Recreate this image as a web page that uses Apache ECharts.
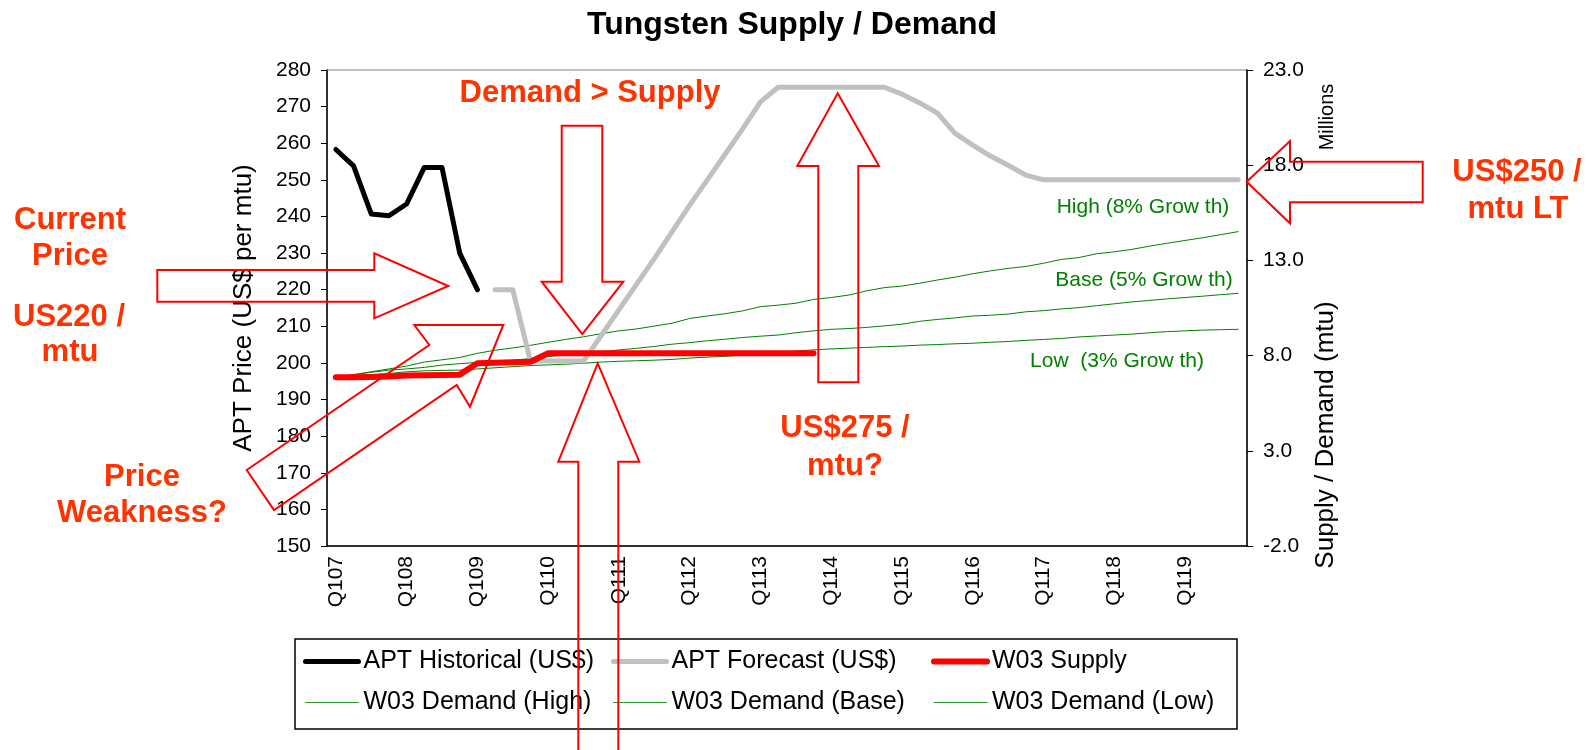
<!DOCTYPE html>
<html>
<head>
<meta charset="utf-8">
<script src="https://cdn.jsdelivr.net/npm/echarts@6/dist/echarts.min.js"></script>
<style>
  html, body { margin: 0; padding: 0; background: #fff; }
  #chart { width: 1596px; height: 750px; }
</style>
</head>
<body>
<div id="chart"></div>
<script>
// quarters Q107 .. Q419
const quarters = [
  "Q107","Q207","Q307","Q407","Q108","Q208","Q308","Q408",
  "Q109","Q209","Q309","Q409","Q110","Q210","Q310","Q410",
  "Q111","Q211","Q311","Q411","Q112","Q212","Q312","Q412",
  "Q113","Q213","Q313","Q413","Q114","Q214","Q314","Q414",
  "Q115","Q215","Q315","Q415","Q116","Q216","Q316","Q416",
  "Q117","Q217","Q317","Q417","Q118","Q218","Q318","Q418",
  "Q119","Q219","Q319","Q419"
];

// APT price, US$ per mtu (left axis)
const aptHistorical = [258.3, 253.8, 240.7, 240.2, 243.4, 253.4, 253.4, 230, 220];
const aptForecast = [
  null, null, null, null, null, null, null, null, null,
  220, 220, 200.5, 200.5, 200.5, 200.5, 207.5, 214.5, 221.5, 228.5, 235.8,
  243.1, 250, 257, 264, 271.3, 275.3, 275.3, 275.3, 275.3, 275.3,
  275.3, 275.3, 273.4, 271, 268.2, 262.7, 259.5, 256.5, 254, 251.3,
  250, 250, 250, 250, 250, 250, 250, 250, 250, 250, 250, 250
];

// supply / demand, millions of mtu (right axis)
const supply = [
  6.86, 6.86, 6.88, 6.9, 6.95, 6.97, 6.98, 7.0, 7.6, 7.62, 7.65, 7.68,
  8.12, 8.12, 8.12, 8.12, 8.12, 8.12, 8.12, 8.12, 8.12, 8.12, 8.12, 8.12,
  8.12, 8.12, 8.12, 8.12
];
const demandHigh = [
  6.86, 7.0, 7.15, 7.3, 7.45, 7.66, 7.78, 7.9, 8.12, 8.28, 8.4, 8.54,
  8.7, 8.85, 8.99, 9.15, 9.3, 9.4, 9.55, 9.7, 9.95, 10.08, 10.2, 10.35,
  10.57, 10.65, 10.75, 10.95, 11.05, 11.18, 11.4, 11.57, 11.65, 11.8, 11.97, 12.12,
  12.3, 12.45, 12.58, 12.68, 12.85, 13.05, 13.15, 13.35, 13.45, 13.58, 13.75, 13.9,
  14.05, 14.19, 14.35, 14.51
];
const demandBase = [
  6.86, 7.0, 7.12, 7.24, 7.3, 7.38, 7.5, 7.58, 7.64, 7.68, 7.75, 7.85,
  7.95, 8.03, 8.1, 8.2, 8.3, 8.38, 8.48, 8.6, 8.68, 8.78, 8.86, 8.95,
  9.02, 9.08, 9.2, 9.3, 9.38, 9.42, 9.48, 9.56, 9.65, 9.8, 9.9, 9.98,
  10.08, 10.12, 10.18, 10.3, 10.36, 10.45, 10.52, 10.62, 10.72, 10.82, 10.9, 10.98,
  11.05, 11.12, 11.2, 11.27
];
const demandLow = [
  6.86, 6.93, 7.0, 7.06, 7.15, 7.2, 7.22, 7.24, 7.3, 7.36, 7.42, 7.48,
  7.51, 7.55, 7.6, 7.66, 7.7, 7.73, 7.76, 7.8, 7.87, 7.92, 7.96, 8.02,
  8.1, 8.18, 8.24, 8.3, 8.35, 8.39, 8.43, 8.47, 8.5, 8.55, 8.58, 8.62,
  8.65, 8.7, 8.74, 8.8, 8.85, 8.9, 8.98, 9.03, 9.08, 9.13, 9.2, 9.26,
  9.3, 9.34, 9.36, 9.38
];

const FONT = "Liberation Sans, Arial, sans-serif";
const RED_TXT = "#FF3300";
const GREEN = "#008000";

const chart = echarts.init(document.getElementById("chart"));

// red outline arrows (annotations)
function arrow(points) {
  return {
    type: "polygon",
    z: 100,
    shape: { points: points },
    style: { fill: "none", stroke: "#FF0000", lineWidth: 2 },
  };
}
function note(text, x, y, size, color, bold) {
  return {
    type: "text",
    z: 101,
    x: x,
    y: y,
    style: {
      text: text,
      fill: color,
      font: (bold ? "bold " : "") + size + "px " + FONT,
      align: "center",
      verticalAlign: "middle",
    },
  };
}

function lineSeries(name, data, axis, color, width) {
  return {
    name: name,
    type: "line",
    yAxisIndex: axis,
    data: data,
    symbol: "none",
    connectNulls: false,
    lineStyle: { color: color, width: width, cap: "round", join: "round" },
    itemStyle: { color: color },
  };
}

// legend entry: just the line, no marker
function legendItem(name, color, width) {
  return {
    name: name,
    itemStyle: { opacity: 0 },
    lineStyle: { color: color, width: width, cap: "round" },
  };
}

const legendBase = {
  orient: "vertical",
  top: 649,
  padding: 0,
  itemGap: 16,
  itemWidth: 53,
  itemHeight: 14,
  textStyle: { fontFamily: FONT, fontSize: 25, color: "#000" },
  z: 20,
};

const option = {
  animation: false,
  title: {
    text: "Tungsten Supply / Demand",
    left: 787,
    textAlign: "center",
    top: 4,
    textStyle: { fontFamily: FONT, fontSize: 32, fontWeight: "bold", color: "#000" },
  },
  grid: {
    left: 327,
    right: 349,
    top: 70,
    bottom: 204,
    show: true,
    borderColor: "#808080",
    borderWidth: 1,
  },
  legend: [
    Object.assign({}, legendBase, { left: 303, data: [
      legendItem("APT Historical (US$)", "#000000", 5),
      legendItem("W03 Demand (High)", "#2e9a2e", 1),
    ] }),
    Object.assign({}, legendBase, { left: 611, data: [
      legendItem("APT Forecast (US$)", "#C0C0C0", 5),
      legendItem("W03 Demand (Base)", "#2e9a2e", 1),
    ] }),
    Object.assign({}, legendBase, { left: 931, data: [
      legendItem("W03 Supply", "#FF0000", 6),
      legendItem("W03 Demand (Low)", "#2e9a2e", 1),
    ] }),
  ],
  xAxis: {
    type: "category",
    data: quarters,
    boundaryGap: true,
    axisLine: { onZero: false, lineStyle: { color: "#000", width: 1.5 } },
    axisTick: { interval: 3, length: 6, lineStyle: { color: "#000" } },
    axisLabel: {
      interval: 3,
      rotate: 90,
      margin: 10,
      fontFamily: FONT,
      fontSize: 21,
      color: "#000",
    },
  },
  yAxis: [
    {
      type: "value",
      min: 150,
      max: 280,
      interval: 10,
      name: "APT Price (US$ per mtu)",
      nameLocation: "middle",
      nameRotate: 90,
      nameGap: 70,
      nameTextStyle: { fontFamily: FONT, fontSize: 26, color: "#000" },
      axisLine: { show: true, onZero: false, lineStyle: { color: "#000", width: 1.5 } },
      axisTick: { show: true, length: 6, lineStyle: { color: "#000" } },
      splitLine: { show: false },
      axisLabel: { margin: 16, fontFamily: FONT, fontSize: 21, color: "#000" },
    },
    {
      type: "value",
      position: "right",
      min: -2,
      max: 23,
      interval: 5,
      axisLine: { show: true, onZero: false, lineStyle: { color: "#000", width: 1.5 } },
      axisTick: { show: true, length: 6, lineStyle: { color: "#000" } },
      splitLine: { show: false },
      axisLabel: {
        margin: 16,
        fontFamily: FONT,
        fontSize: 21,
        color: "#000",
        formatter: function (v) { return v.toFixed(1); },
      },
    },
  ],
  series: [
    lineSeries("W03 Demand (High)", demandHigh, 1, GREEN, 1),
    lineSeries("W03 Demand (Base)", demandBase, 1, GREEN, 1),
    lineSeries("W03 Demand (Low)", demandLow, 1, GREEN, 1),
    lineSeries("APT Forecast (US$)", aptForecast, 0, "#C0C0C0", 5),
    lineSeries("W03 Supply", supply, 1, "#FF0000", 6),
    lineSeries("APT Historical (US$)", aptHistorical, 0, "#000000", 5),
  ],
  graphic: [
    // legend frame
    {
      type: "rect",
      z: 1,
      shape: { x: 295, y: 639, width: 942, height: 90 },
      style: { fill: "#fff", stroke: "#000", lineWidth: 1.5 },
    },
    // right axis title
    {
      type: "text",
      z: 5,
      x: 1326,
      y: 435,
      rotation: Math.PI / 2,
      style: { text: "Supply / Demand (mtu)", fill: "#000", font: "26px " + FONT, align: "center", verticalAlign: "middle" },
    },
    {
      type: "text",
      z: 5,
      x: 1327,
      y: 117,
      rotation: Math.PI / 2,
      style: { text: "Millions", fill: "#000", font: "20px " + FONT, align: "center", verticalAlign: "middle" },
    },
    // green scenario labels
    note("High (8% Grow th)", 1143, 207, 21, GREEN, false),
    note("Base (5% Grow th)", 1144, 280, 21, GREEN, false),
    note("Low  (3% Grow th)", 1117, 361, 21, GREEN, false),
    // red callouts
    note("Demand > Supply", 590, 93, 31, RED_TXT, true),
    note("Current", 70, 220, 31, RED_TXT, true),
    note("Price", 70, 256, 31, RED_TXT, true),
    note("US220 /", 69, 317, 31, RED_TXT, true),
    note("mtu", 70, 352, 31, RED_TXT, true),
    note("Price", 142, 477, 31, RED_TXT, true),
    note("Weakness?", 142, 513, 31, RED_TXT, true),
    note("US$275 /", 845, 428, 31, RED_TXT, true),
    note("mtu?", 845, 466, 31, RED_TXT, true),
    note("US$250 /", 1517, 172, 31, RED_TXT, true),
    note("mtu LT", 1518, 209, 31, RED_TXT, true),
    // arrows
    arrow([[157.3, 270], [374.3, 270], [374.3, 253.3], [448.3, 286], [374.3, 318.3], [374.3, 301.7], [157.3, 301.7]]),
    arrow([[561.7, 125.7], [602.3, 125.7], [602.3, 281.7], [623.3, 281.7], [582.3, 334], [541.7, 281.7], [561.7, 281.7]]),
    arrow([[246.7, 470], [429.3, 345], [414.3, 325], [503.3, 325], [470, 406.7], [456.7, 385], [274, 510]]),
    arrow([[837.7, 93.3], [879, 166], [858.3, 166], [858.3, 382.3], [818.3, 382.3], [818.3, 166], [797.3, 166]]),
    arrow([[1246.7, 181.7], [1290, 141], [1290, 161.7], [1422.7, 161.7], [1422.7, 202.3], [1290, 202.3], [1290, 223.3]]),
    arrow([[597.7, 363.3], [639.3, 461.7], [618.3, 461.7], [618.3, 760], [578.3, 760], [578.3, 461.7], [558.3, 461.7]]),
  ],
};

chart.setOption(option);
</script>
</body>
</html>
